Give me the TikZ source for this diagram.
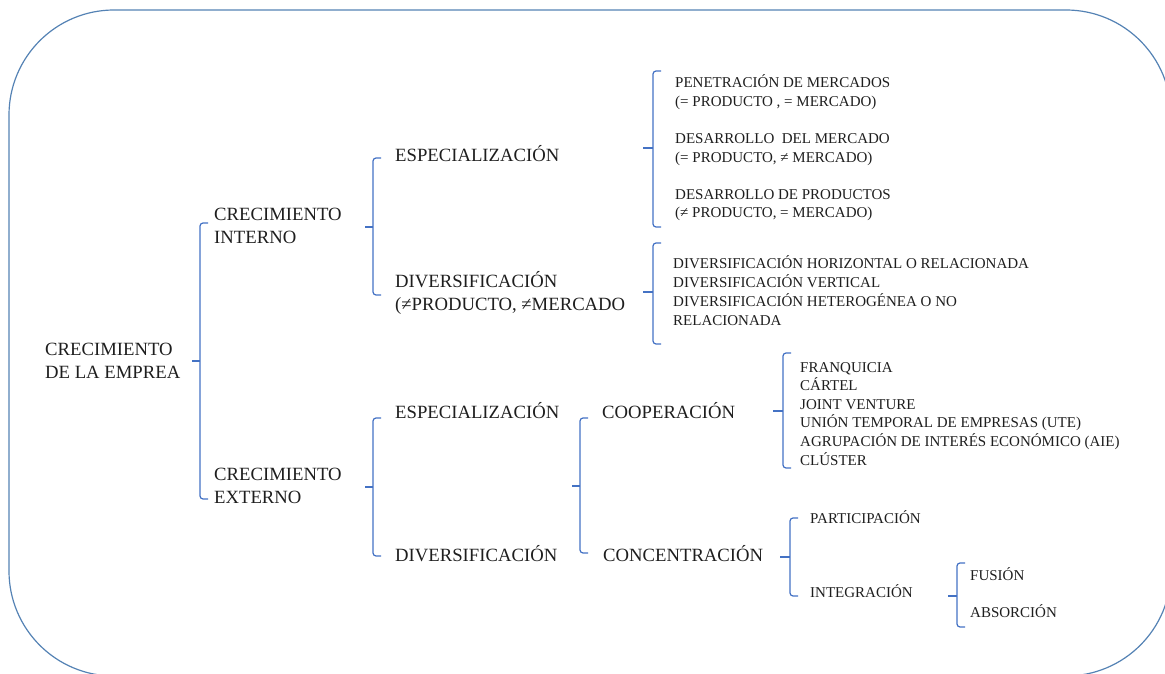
\documentclass[tikz,border=0pt]{standalone}
\usepackage{fontspec}
\setmainfont{Liberation Serif}
\usetikzlibrary{positioning}
\definecolor{framecol}{RGB}{84,130,180}
\definecolor{bracecol}{RGB}{68,114,196}
\definecolor{txtcol}{RGB}{30,30,30}
\tikzset{
  bigtxt/.style={anchor=base west, inner sep=0pt, align=left, text=txtcol,
    font=\fontsize{18.7}{23.5}\selectfont},
  smalltxt/.style={anchor=base west, inner sep=0pt, align=left, text=txtcol,
    font=\fontsize{15}{19}\selectfont},
  bracket/.style={draw=bracecol, line width=1.2pt, rounded corners=3pt},
  bracktick/.style={draw=bracecol, line width=1.8pt}
}

\begin{document}
\begin{tikzpicture}[x=1pt,y=-1pt]
\useasboundingbox (0,0) rectangle (1165,674);
\clip (0,0) rectangle (1165,674);

% Frame
\draw[framecol, line width=1.2pt, rounded corners=105pt] (9,10) rectangle (1171,676);

% Root (multi-line nodes sit on their last baseline)
\node[bigtxt] (root) at (45,378.5) {CRECIMIENTO\\DE LA EMPREA};
\draw[bracket] (208,223) -- (200,223) -- (200,499) -- (208,499);
\draw[bracktick] (200,361) -- (192,361);

% Internal growth
\node[bigtxt] (interno) at (214,243.5) {CRECIMIENTO\\INTERNO};
\draw[bracket] (381,158) -- (373,158) -- (373,295) -- (381,295);
\draw[bracktick] (373,227) -- (365,227);

\node[bigtxt] (espint) at (395,162) {ESPECIALIZACIÓN};
\draw[bracket] (661,71) -- (653,71) -- (653,227) -- (661,227);
\draw[bracktick] (653,148) -- (643,148);

\node[smalltxt] (penet) at (675,107) {PENETRACIÓN DE MERCADOS\\(= PRODUCTO , = MERCADO)};
\node[smalltxt] (desmer) at (675,163) {DESARROLLO\ \ DEL MERCADO\\(= PRODUCTO, ≠ MERCADO)};
\node[smalltxt] (desprod) at (675,218) {DESARROLLO DE PRODUCTOS\\(≠ PRODUCTO, = MERCADO)};

\node[bigtxt] (divint) at (395,310.5) {DIVERSIFICACIÓN\\(≠PRODUCTO, ≠MERCADO};
\draw[bracket] (661,243) -- (653,243) -- (653,344) -- (661,344);
\draw[bracktick] (653,292) -- (643,292);

\node[smalltxt] (divlist) at (673,325) {DIVERSIFICACIÓN HORIZONTAL O RELACIONADA\\
  DIVERSIFICACIÓN VERTICAL\\DIVERSIFICACIÓN HETEROGÉNEA O NO\\RELACIONADA};

% External growth
\node[bigtxt] (externo) at (214,503.5) {CRECIMIENTO\\EXTERNO};
\draw[bracket] (381,418) -- (373,418) -- (373,556) -- (381,556);
\draw[bracktick] (373,487) -- (365,487);

\node[bigtxt] (espext) at (395,418) {ESPECIALIZACIÓN};
\node[bigtxt] (divext) at (395,561) {DIVERSIFICACIÓN};
\draw[bracket] (588,418) -- (580,418) -- (580,553) -- (588,553);
\draw[bracktick] (580,486) -- (572,486);

\node[bigtxt] (coop) at (602,418) {COOPERACIÓN};
\draw[bracket] (791,353) -- (783,353) -- (783,468) -- (791,468);
\draw[bracktick] (783,411) -- (773,411);

\node[smalltxt, font=\fontsize{15}{18.6}\selectfont] (cooplist) at (800,465)
  {FRANQUICIA\\CÁRTEL\\JOINT VENTURE\\
  UNIÓN TEMPORAL DE EMPRESAS (UTE)\\AGRUPACIÓN DE INTERÉS ECONÓMICO (AIE)\\CLÚSTER};

\node[bigtxt] (conc) at (603,561) {CONCENTRACIÓN};
\draw[bracket] (798,518) -- (790,518) -- (790,596) -- (798,596);
\draw[bracktick] (790,557) -- (780,557);

\node[smalltxt] (part) at (810,523) {PARTICIPACIÓN};
\node[smalltxt] (integ) at (810,597) {INTEGRACIÓN};
\draw[bracket] (965,563) -- (957,563) -- (957,627) -- (965,627);
\draw[bracktick] (957,596) -- (948,596);

\node[smalltxt] (fusion) at (970,580) {FUSIÓN};
\node[smalltxt] (absor) at (970,617) {ABSORCIÓN};
\end{tikzpicture}
\end{document}
